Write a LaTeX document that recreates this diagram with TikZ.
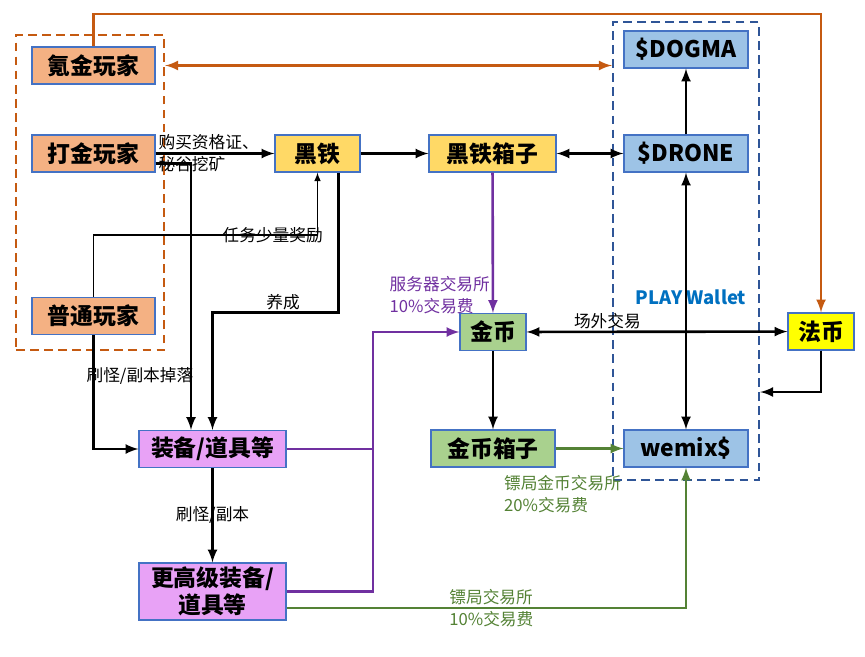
\documentclass[tikz,border=0pt]{standalone}
\usepackage{fontspec}
\setmainfont{Noto Sans CJK SC}
\usetikzlibrary{arrows,positioning}
\definecolor{playerfill}{RGB}{244,177,131}
\definecolor{ironfill}{RGB}{255,217,102}
\definecolor{tokenfill}{RGB}{157,195,230}
\definecolor{coinfill}{RGB}{169,209,142}
\definecolor{fiatfill}{RGB}{255,255,0}
\definecolor{gearfill}{RGB}{232,162,246}
\definecolor{boxline}{RGB}{68,114,196}
\definecolor{orangeline}{RGB}{197,90,17}
\definecolor{purpleline}{RGB}{112,48,160}
\definecolor{greenline}{RGB}{84,130,53}
\definecolor{walletline}{RGB}{47,85,151}
\definecolor{walletblue}{RGB}{0,112,192}

\begin{document}
\begin{tikzpicture}[
    x=0.02cm, y=-0.02cm, >=latex,
    every node/.style={font=\fontsize{13}{15}\selectfont\bfseries},
    box/.style={rectangle, draw=boxline, line width=0.6pt, inner sep=0pt, minimum height=0.74cm},
    player/.style={box, fill=playerfill, minimum width=2.46cm},
    iron/.style={box, fill=ironfill},
    token/.style={box, fill=tokenfill, minimum width=2.48cm},
    coin/.style={box, fill=coinfill},
    fiat/.style={box, fill=fiatfill, minimum width=1.32cm},
    gear/.style={box, fill=gearfill, minimum width=2.94cm, align=center},
    lbl/.style={font=\fontsize{9.5}{12.5}\selectfont, inner sep=1pt, align=left},
    link/.style={line width=1.5pt},
    group/.style={rectangle, dashed, dash pattern=on 5pt off 3pt, line width=1.4pt, inner sep=0pt}
    ]
    \useasboundingbox (0,0) rectangle (865,656);
    % Players
    \node[group, draw=orangeline, minimum width=2.96cm, minimum height=6.3cm] (players) at (90,192.5) {};
    \node[player] (krypton) at (93.5,65.5) {氪金玩家};
    \node[player] (farmer) at (93.5,153.5) {打金玩家};
    \node[player] (casual) at (93.5,316) {普通玩家};
    % Wallet
    \node[group, draw=walletline, minimum width=2.92cm, minimum height=9.16cm] (wallet) at (686,251) {};
    \node[font=\fontsize{10.5}{12}\selectfont\bfseries, text=walletblue] (wallettitle) at (691,297) {PLAY Wallet};
    \node[token] (dogma) at (686,49.5) {\$DOGMA};
    \node[token] (drone) at (686,153.5) {\$DRONE};
    \node[token] (wemix) at (686,448.5) {wemix\$};
    % Items and coins
    \node[iron, minimum width=1.7cm] (iron) at (317.5,153.5) {黑铁};
    \node[iron, minimum width=2.54cm] (ironbox) at (492.5,153.5) {黑铁箱子};
    \node[coin, minimum width=1.32cm] (coin) at (493,332) {金币};
    \node[coin, minimum width=2.48cm] (coinbox) at (493,448.5) {金币箱子};
    \node[fiat] (fiat) at (821,331.5) {法币};
    \node[gear] (gear) at (212.5,449) {装备/道具等};
    \node[gear, minimum height=1.14cm] (gear2) at (212.5,591.5) {更高级装备/\\道具等};
    \coordinate (top) at (0,14);
    \coordinate (merge) at (373,332);
    % Orange links
    \draw[orangeline, link, ->] (krypton.north) -- (krypton.north |- top) -| (fiat.north);
    \draw[orangeline, link, <->] (players.east |- krypton) -- (wallet.west |- krypton);
    % Black links
    \draw[link, ->] (farmer) -- node[lbl, anchor=west, pos=0] {购买资格证、\\秘谷挖矿} (iron);
    \draw[link, ->] ([yshift=-0.2cm]farmer.east) -| ([xshift=-0.43cm]gear.north);
    \draw[link, ->] ([xshift=0.42cm]iron.south) -- ++(0,140) -| node[lbl, above, pos=0.22] {养成} (gear.north);
    \draw[line width=0.7pt, ->] (casual.north) -- ++(0,-62) -| node[lbl, pos=0.4] {任务少量奖励} (iron.south);
    \draw[link, ->] (casual.south) |- node[lbl, anchor=west, pos=0.18, xshift=-0.2cm] {刷怪/副本掉落} (gear.west);
    \draw[link, ->] (gear) -- node[lbl] {刷怪/副本} (gear2);
    \draw[link, ->] (iron) -- (ironbox);
    \draw[link, <->] (ironbox) -- (drone);
    \draw[link, ->] (drone) -- (dogma);
    \draw[link, <->] (drone) -- (wemix);
    \draw[link, ->] (coin) -- (coinbox);
    \draw[link, <->] (coin) -- node[lbl, above, pos=0.31] {场外交易} (fiat);
    \draw[link, ->] (fiat.south) |- (wallet.east |- 0,392);
    % Purple links
    \draw[purpleline, link, ->] (ironbox) -- node[lbl, text=purpleline, anchor=east, pos=0.87] {服务器交易所\\10\%交易费} (coin);
    \draw[purpleline, link] (gear.east) -| (merge);
    \draw[purpleline, link, ->] (gear2.east) -| (merge) -- (coin.west);
    % Green links
    \draw[greenline, link, ->] (coinbox) -- (wemix);
    \node[lbl, text=greenline, anchor=west] (fee20) at (502,494) {镖局金币交易所\\20\%交易费};
    \draw[greenline, link, ->] ([yshift=-0.33cm]gear2.east) -| node[lbl, text=greenline, anchor=west, pos=0.2] {镖局交易所\\10\%交易费} (wemix.south);
\end{tikzpicture}
\end{document}
